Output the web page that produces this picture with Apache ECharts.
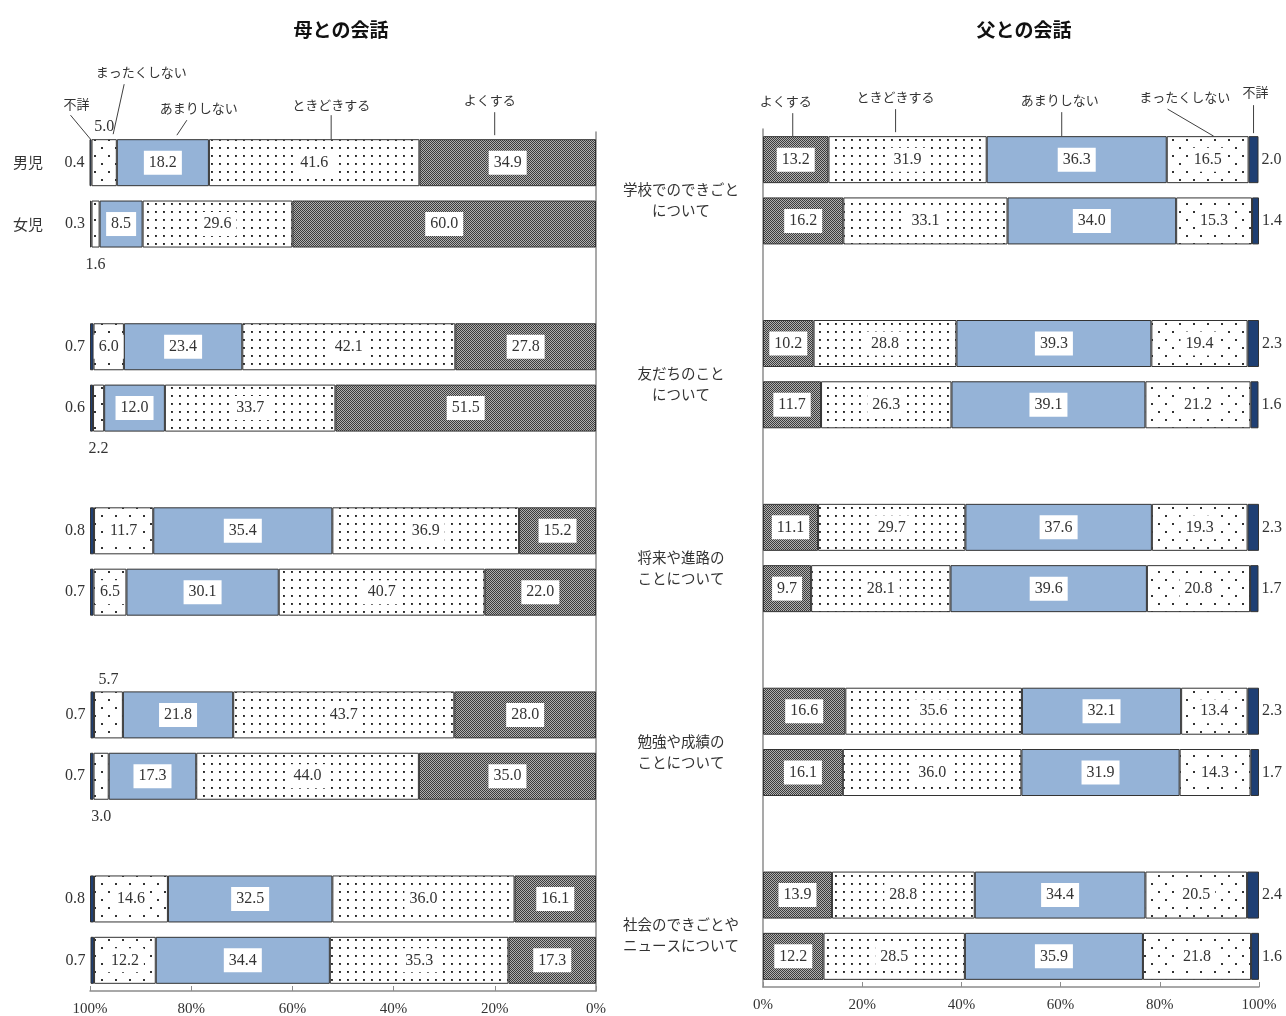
<!DOCTYPE html>
<html><head><meta charset="utf-8">
<script src="https://cdn.jsdelivr.net/npm/echarts@6/dist/echarts.min.js"></script>
<style>html,body{margin:0;padding:0;background:#fff}#c{width:1286px;height:1016px}</style>
</head><body><div id="c"></div>
<script>
// ---------------- data ----------------
const topics = ['学校でのできごと\nについて', '友だちのこと\nについて', '将来や進路の\nことについて', '勉強や成績の\nことについて', '社会のできごとや\nニュースについて'];
const genders = ['男児', '女児'];
const responses = ['よくする', 'ときどきする', 'あまりしない', 'まったくしない', '不詳'];
const panelTitles = ['母との会話', '父との会話'];
// order per topic: [男児, 女児]
const motherYoku     = [34.9, 60.0, 27.8, 51.5, 15.2, 22.0, 28.0, 35.0, 16.1, 17.3];
const motherTokidoki = [41.6, 29.6, 42.1, 33.7, 36.9, 40.7, 43.7, 44.0, 36.0, 35.3];
const motherAmari    = [18.2, 8.5, 23.4, 12.0, 35.4, 30.1, 21.8, 17.3, 32.5, 34.4];
const motherMattaku  = [5.0, 1.6, 6.0, 2.2, 11.7, 6.5, 5.7, 3.0, 14.6, 12.2];
const motherFusho    = [0.4, 0.3, 0.7, 0.6, 0.8, 0.7, 0.7, 0.7, 0.8, 0.7];
const fatherYoku     = [13.2, 16.2, 10.2, 11.7, 11.1, 9.7, 16.6, 16.1, 13.9, 12.2];
const fatherTokidoki = [31.9, 33.1, 28.8, 26.3, 29.7, 28.1, 35.6, 36.0, 28.8, 28.5];
const fatherAmari    = [36.3, 34.0, 39.3, 39.1, 37.6, 39.6, 32.1, 31.9, 34.4, 35.9];
const fatherMattaku  = [16.5, 15.3, 19.4, 21.2, 19.3, 20.8, 13.4, 14.3, 20.5, 21.8];
const fatherFusho    = [2.0, 1.4, 2.3, 1.6, 2.3, 1.7, 2.3, 1.7, 2.4, 1.6];

// ---------------- styling helpers ----------------
function pattern(w, h, draw) {
  const c = document.createElement('canvas');
  c.width = w; c.height = h;
  const ctx = c.getContext('2d');
  ctx.fillStyle = '#fff'; ctx.fillRect(0, 0, w, h);
  draw(ctx);
  return { image: c, repeat: 'repeat' };
}
const fillYoku = pattern(2, 2, ctx => {
  ctx.fillStyle = '#b0b0b0'; ctx.fillRect(0, 0, 2, 2);
  ctx.fillStyle = '#3c3c3c'; ctx.fillRect(0, 0, 1, 1); ctx.fillRect(1, 1, 1, 1);
});
const fillTokidoki = pattern(8, 8, ctx => {
  ctx.fillStyle = '#555'; ctx.fillRect(3, 3, 2, 2);
  ctx.fillStyle = '#222'; ctx.fillRect(3, 3, 1.5, 1.5);
});
const fillMattaku = pattern(14, 16, ctx => {
  ctx.fillStyle = '#333';
  [[3, 3], [10, 11]].forEach(p => ctx.fillRect(p[0], p[1], 2, 2));
});
const fills = [fillYoku, fillTokidoki, '#95b3d7', fillMattaku, '#1f3f73'];

const SERIF = '"Liberation Serif","DejaVu Serif",serif';
const SANS = '"Noto Sans CJK JP","Noto Sans",sans-serif';

// slots: 男児, 女児, gap, ...
const slots = [];
topics.forEach((t, ti) => {
  genders.forEach((g, gi) => slots.push({ name: ti + '|' + g, k: ti * 2 + gi, g: gi }));
  if (ti < topics.length - 1) slots.push({ name: 'gap' + ti, k: -1, g: -1 });
});
const slotNames = slots.map(s => s.name);

const BAR_W = 47;
const boxLabel = {
  show: true, position: 'inside', fontFamily: SERIF, fontSize: 16, color: '#333',
  backgroundColor: '#fff', padding: [5, 5, 3, 5],
  formatter: p => Number(p.value).toFixed(1)
};

function buildData(values, respIdx, panel) {
  return slots.map(s => {
    if (s.k < 0) return '-';
    const v = values[s.k];
    if (respIdx === 4) {
      return { value: v, label: { show: true, position: panel === 0 ? 'left' : 'right', distance: panel === 0 ? 5 : 3,
        backgroundColor: 'transparent', padding: [4, 0, 0, 0] } };
    }
    if (respIdx === 3 && panel === 0 && v < 6) {
      return { value: v, label: { show: true, position: s.g === 0 ? 'top' : 'bottom', distance: s.g === 0 ? 4 : 9,
        backgroundColor: 'transparent', padding: 0 } };
    }
    return { value: v };
  });
}

const motherSets = [motherYoku, motherTokidoki, motherAmari, motherMattaku, motherFusho];
const fatherSets = [fatherYoku, fatherTokidoki, fatherAmari, fatherMattaku, fatherFusho];

const series = [];
[motherSets, fatherSets].forEach((sets, panel) => {
  sets.forEach((vals, ri) => {
    series.push({
      type: 'bar', name: responses[ri] + panel, stack: 'p' + panel,
      xAxisIndex: panel, yAxisIndex: panel === 0 ? 0 : 2,
      barWidth: BAR_W,
      itemStyle: { color: fills[ri], borderColor: '#333', borderWidth: 1 },
      label: boxLabel,
      data: buildData(vals, ri, panel)
    });
  });
});

const xAxisBase = (grid, inverse) => ({
  type: 'value', gridIndex: grid, min: 0, max: 100, interval: 20, inverse: inverse,
  axisLine: { show: true, lineStyle: { color: '#8c8c8c', width: 1.5 } },
  axisTick: { show: true, inside: true, length: 5, lineStyle: { color: '#8c8c8c' } },
  axisLabel: { formatter: '{value}%', fontFamily: SERIF, fontSize: 15, color: '#333', margin: 11 },
  splitLine: { show: false }
});

const option = {
  animation: false,
  backgroundColor: '#fff',
  grid: [
    { left: 90, top: 132, width: 506, height: 859, outerBoundsMode: 'none', containLabel: false },
    { left: 763, top: 129, width: 496, height: 858, outerBoundsMode: 'none', containLabel: false }
  ],
  xAxis: [xAxisBase(0, true), xAxisBase(1, false)],
  yAxis: [
    { type: 'category', gridIndex: 0, data: slotNames, inverse: true, position: 'right',
      axisLine: { show: true, onZero: false, lineStyle: { color: '#8c8c8c', width: 1.5 } },
      axisTick: { show: false }, axisLabel: { show: false } },
    { type: 'category', gridIndex: 0, data: slotNames, inverse: true, position: 'left',
      axisLine: { show: false, onZero: false }, axisTick: { show: false },
      axisLabel: { interval: 0, margin: 47, fontFamily: SANS, fontSize: 15, color: '#333', padding: [7, 0, 0, 0],
        formatter: (v, i) => (slots[i].k >= 0 && slots[i].k < 2) ? genders[slots[i].g] : '' } },
    { type: 'category', gridIndex: 1, data: slotNames, inverse: true, position: 'left',
      axisLine: { show: true, onZero: false, lineStyle: { color: '#8c8c8c', width: 1.5 } },
      axisTick: { show: false },
      axisLabel: { interval: 0, margin: 82, align: 'center', verticalAlign: 'bottom', lineHeight: 21,
        fontFamily: SANS, fontSize: 14.5, color: '#333',
        formatter: (v, i) => slots[i].g === 1 ? topics[Math.floor(slots[i].k / 2)] : '' } }
  ],
  series: series
};

const chart = echarts.init(document.getElementById('c'), null, { renderer: 'canvas' });
chart.setOption(option);

// ---------------- callouts (legend labels) anchored on the first bar of each panel ----------------
// offsets relative to segment centre / bar top: b = line bottom, t = line top, x = text centre
const calloutLayout = [
  [ // mother panel, in series order
    { b: [-13, -4], t: [-13, -27], x: [-18, -39] },
    { b: [17, 0], t: [17, -24], x: [17, -34] },
    { b: [14, -4], t: [24, -19], x: [36, -31] },
    { b: [9, -5], t: [20, -55], x: [37, -67] },
    { b: [0, 0], t: [-20, -24], x: [-14, -35] }
  ],
  [ // father panel
    { b: [-3, 0], t: [-3, -23], x: [-10, -35] },
    { b: [-12, -4], t: [-12, -27], x: [-12, -39] },
    { b: [-15, 0], t: [-15, -24], x: [-17, -36] },
    { b: [6, 0], t: [-40, -27], x: [-23, -39] },
    { b: [0, -3], t: [0, -31], x: [2, -44] }
  ]
];
const graphics = [];
[motherSets, fatherSets].forEach((sets, panel) => {
  let cum = 0;
  const yIdx = panel === 0 ? 0 : 2;
  sets.forEach((vals, ri) => {
    const v = vals[0];
    const mid = cum + v / 2;
    cum += v;
    const p = chart.convertToPixel({ xAxisIndex: panel, yAxisIndex: yIdx }, [mid, slotNames[0]]);
    const ax = p[0], ay = p[1] - BAR_W / 2;
    const L = calloutLayout[panel][ri];
    graphics.push({
      type: 'line', silent: true,
      shape: { x1: ax + L.b[0], y1: ay + L.b[1], x2: ax + L.t[0], y2: ay + L.t[1] },
      style: { stroke: '#404040', lineWidth: 1 }
    });
    graphics.push({
      type: 'text', silent: true, x: ax + L.x[0], y: ay + L.x[1],
      style: { text: responses[ri], fill: '#333', font: '13px ' + SANS, align: 'center', verticalAlign: 'middle' }
    });
  });
  // panel title centred over its grid
  const g0 = chart.convertToPixel({ xAxisIndex: panel, yAxisIndex: yIdx }, [50, slotNames[0]]);
  graphics.push({
    type: 'text', silent: true, x: g0[0] + (panel === 0 ? -2 : 13), y: 30,
    style: { text: panelTitles[panel], fill: '#111', font: 'bold 19px ' + SANS, align: 'center', verticalAlign: 'middle' }
  });
});
chart.setOption({ graphic: graphics });
</script>
</body></html>
